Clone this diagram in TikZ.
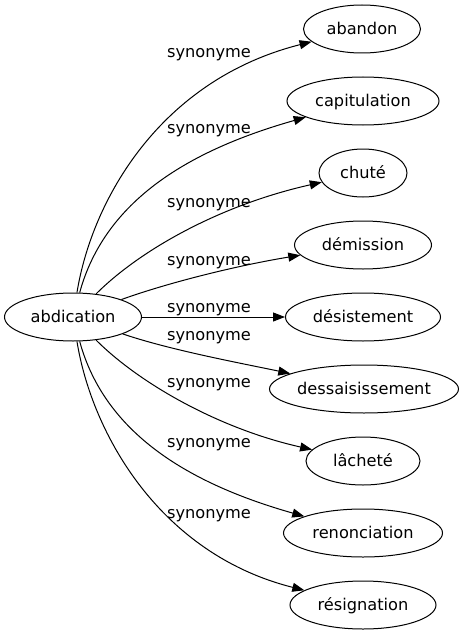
\documentclass[tikz,border=0pt]{standalone}
\usepackage{fontspec}
\setmainfont{DejaVu Sans}
\usetikzlibrary{shapes.geometric,arrows.meta}
\newcommand{\zw}[1]{\makebox[0pt]{#1}}
\begin{document}
\begin{tikzpicture}[x=0.75pt,y=-0.75pt,
  word/.style={ellipse,draw,line width=0.75pt,inner sep=0pt,minimum height=36pt,text height=8.6pt,text depth=0pt,font=\fontsize{12.15pt}{14pt}\selectfont},
  link/.style={line width=0.75pt,-{Triangle[length=9pt,width=6.75pt]}},
  lab/.style={anchor=base,inner sep=0pt,font=\fontsize{12.15pt}{14pt}\selectfont}]
\useasboundingbox (0,0) rectangle (465,635);
\node[word,minimum width=102.75pt] (abd) at (73,317) {\zw{abdication}};
\node[word,minimum width=87.75pt] (n1) at (362,29) {\zw{abandon}};
\node[word,minimum width=114pt] (n2) at (363,101) {\zw{capitulation}};
\node[word,minimum width=66pt] (n3) at (363,173) {\zw{chuté}};
\node[word,minimum width=102.75pt] (n4) at (363,245) {\zw{démission}};
\node[word,minimum width=116.25pt] (n5) at (363,317) {\zw{désistement}};
\node[word,minimum width=141.75pt] (n6) at (364,389) {\zw{dessaisissement}};
\node[word,minimum width=85.5pt] (n7) at (363,461) {\zw{lâcheté}};
\node[word,minimum width=119.25pt] (n8) at (363,533) {\zw{renonciation}};
\node[word,minimum width=109.5pt] (n9) at (363,605) {\zw{résignation}};
\node[lab] (l1) at (209,58) {synonyme};
\node[lab] (l2) at (209,133) {synonyme};
\node[lab] (l3) at (209,207) {synonyme};
\node[lab] (l4) at (209,265) {synonyme};
\node[lab] (l5) at (209,312) {synonyme};
\node[lab] (l6) at (209,340) {synonyme};
\node[lab] (l7) at (209,387) {synonyme};
\node[lab] (l8) at (209,447) {synonyme};
\node[lab] (l9) at (209,518) {synonyme};
\draw[link] (abd) .. controls (92,200) and (160,80) .. (n1);
\draw[link] (abd) .. controls (105,200) and (190,150) .. (n2);
\draw[link] (abd) .. controls (140,250) and (220,205) .. (n3);
\draw[link] (abd) .. controls (170,282) and (240,265) .. (n4);
\draw[link] (abd) -- (n5);
\draw[link] (abd) .. controls (170,350) and (240,363) .. (n6);
\draw[link] (abd) .. controls (140,384) and (220,429) .. (n7);
\draw[link] (abd) .. controls (105,434) and (190,484) .. (n8);
\draw[link] (abd) .. controls (92,434) and (160,554) .. (n9);
\end{tikzpicture}
\end{document}
